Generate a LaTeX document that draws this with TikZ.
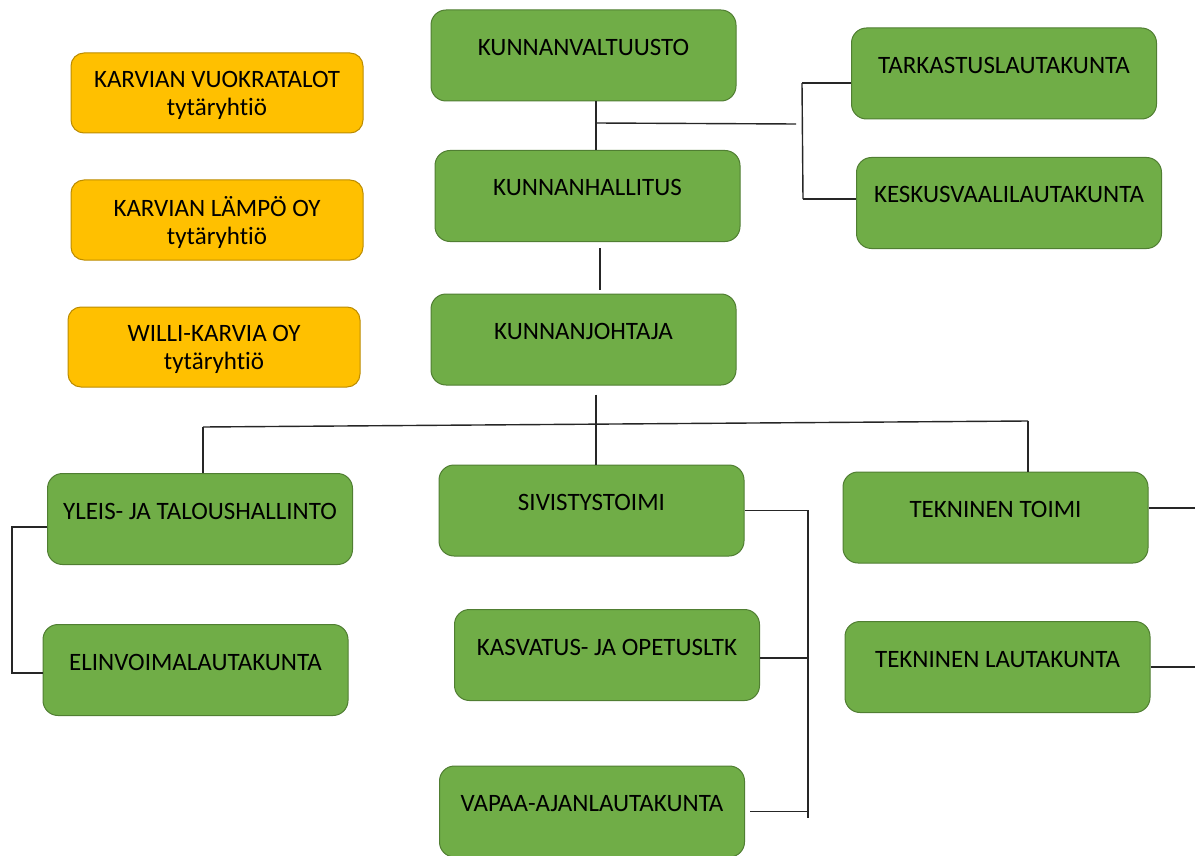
\documentclass[tikz,border=0pt]{standalone}
\usepackage{fontspec}
\setmainfont{Carlito}[Ligatures=NoCommon]
\definecolor{vihrea}{HTML}{70AD47}
\definecolor{vihreareuna}{HTML}{507E32}
\definecolor{kulta}{HTML}{FFC000}
\definecolor{kultareuna}{HTML}{BC8C00}
\begin{document}
\begin{tikzpicture}[x=1pt,y=-1pt,
  elin/.style={draw=vihreareuna, fill=vihrea, rounded corners=15pt, line width=1pt,
    minimum width=305pt, minimum height=91pt, text height=17pt, text depth=17pt,
    font=\fontsize{25}{29}\selectfont},
  yhtio/.style={draw=kultareuna, fill=kulta, rounded corners=13pt, line width=1pt,
    minimum width=292pt, minimum height=80pt, align=center, text depth=0pt,
    font=\fontsize{25}{28}\selectfont},
  linja/.style={line width=1.4pt, black!85}]
\useasboundingbox (0,0) rectangle (1195,856);

\node[yhtio] (vuokratalot) at (217,93) {KARVIAN VUOKRATALOT\\tytäryhtiö};
\node[yhtio] (lampo) at (217,220) {KARVIAN LÄMPÖ OY\\tytäryhtiö};
\node[yhtio] (willi) at (214,347) {WILLI-KARVIA OY\\tytäryhtiö};

\node[elin] (valtuusto) at (583.5,55.5) {KUNNANVALTUUSTO};
\node[elin] (hallitus) at (587.5,196) {KUNNANHALLITUS};
\node[elin] (johtaja) at (583.5,339.5) {KUNNANJOHTAJA};
\node[elin] (tarkastus) at (1004,73.5) {TARKASTUSLAUTAKUNTA};
\node[elin] (keskus) at (1009,203) {KESKUSVAALILAUTAKUNTA};

\node[elin] (yleis) at (200,519) {YLEIS- JA TALOUSHALLINTO};
\node[elin] (elinvoima) at (195.5,670) {ELINVOIMALAUTAKUNTA};
\node[elin] (sivistys) at (591.5,510.5) {SIVISTYSTOIMI};
\node[elin] (kasvatus) at (607,655) {KASVATUS- JA OPETUSLTK};
\node[elin] (vapaa) at (592,811.5) {VAPAA-AJANLAUTAKUNTA};
\node[elin] (tekn) at (995.5,517.5) {TEKNINEN TOIMI};
\node[elin] (teknltk) at (997.5,667) {TEKNINEN LAUTAKUNTA};

\coordinate (vjoin) at (596,123);
\coordinate (vbranch) at (796,124);
\coordinate (tspine) at (802,83);
\coordinate (bspine) at (803,199);
\coordinate (hjoin) at (600,270);
\coordinate (jjoin) at (596,424);
\coordinate (hleft) at (203,427);
\coordinate (hright) at (1028,421);
\coordinate (lspine) at (12,527);
\coordinate (sbot) at (808,818);
\coordinate (tright) at (1195,508);
\coordinate (lright) at (1195,667);

\draw[linja] (valtuusto.south -| vjoin) -- (hallitus.north -| vjoin);
\draw[linja] (vjoin) -- (vbranch);
\draw[linja] (tspine) -- (bspine);
\draw[linja] (tspine) -- (tspine -| tarkastus.west);
\draw[linja] (bspine) -- (bspine -| keskus.west);

\draw[linja, shorten <=6pt, shorten >=4pt] (hallitus.south -| hjoin) -- (johtaja.north -| hjoin);
\draw[linja, shorten <=9pt] (johtaja.south -| jjoin) -- (sivistys.north -| jjoin);

\draw[linja] (hleft) -- (hright);
\draw[linja] (hleft) -- (hleft |- yleis.north);
\draw[linja] (hright) -- (hright |- tekn.north);

\draw[linja] (lspine -| yleis.west) -- (lspine) |- ([yshift=-3pt]elinvoima.west);

\draw[linja] (sivistys.east) -| (sbot);
\draw[linja] ([yshift=-3pt]kasvatus.east) -| (sbot);
\draw[linja, shorten <=5pt] (vapaa.east) -- (vapaa.east -| sbot);

\draw[linja] (tright -| tekn.east) -- (tright);
\draw[linja] (teknltk.east) -- (lright);

\end{tikzpicture}
\end{document}
